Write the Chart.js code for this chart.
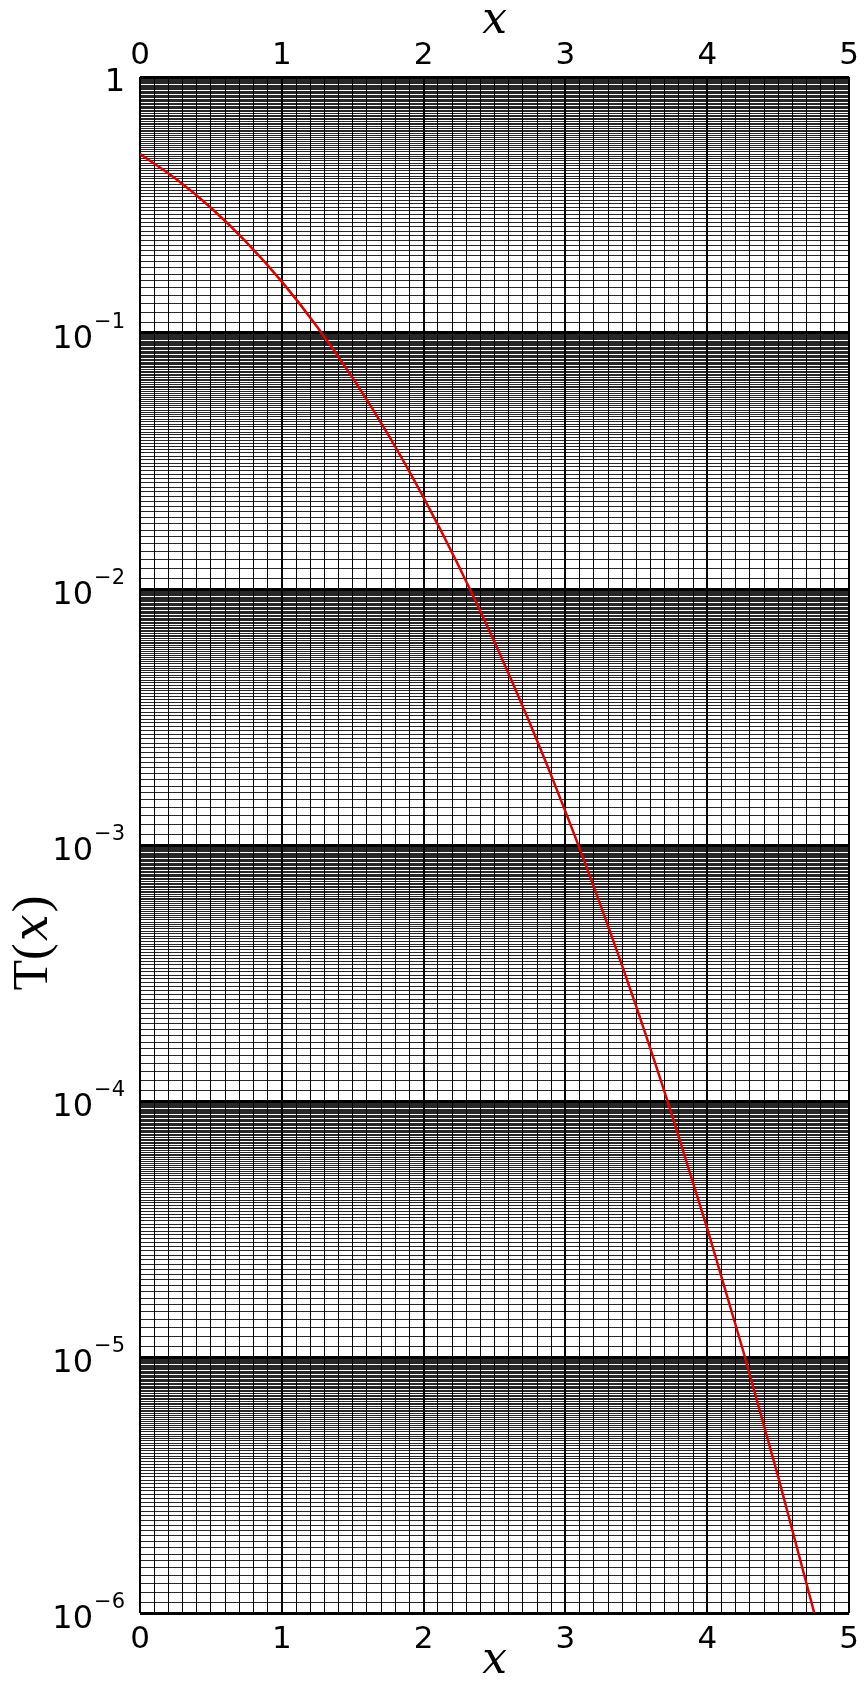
<!DOCTYPE html>
<html>
<head>
<meta charset="utf-8">
<script src="https://cdn.jsdelivr.net/npm/chart.js@4"></script>
<style>
  html, body { margin: 0; padding: 0; background: #fff; }
  canvas { display: block; }
</style>
</head>
<body>
<canvas id="chart" width="867" height="1681"></canvas>
<script>
// values
const xValues = [0, 0.25, 0.5, 0.75, 1.0, 1.25, 1.5, 1.75, 2.0, 2.25, 2.5, 2.75,
                 3.0, 3.25, 3.5, 3.75, 4.0, 4.25, 4.5, 4.75, 4.8];
const tValues = [0.5, 0.401, 0.3085, 0.2266, 0.1587, 0.1056, 0.0668, 0.0401, 0.02275,
                 0.01222, 0.00621, 0.00298, 0.00135, 5.77e-4, 2.33e-4, 8.84e-5,
                 3.17e-5, 1.07e-5, 3.40e-6, 1.02e-6, 7.9e-7];

const xTickLabels = ['0', '1', '2', '3', '4', '5'];
const yDecades = [1, 1e-1, 1e-2, 1e-3, 1e-4, 1e-5, 1e-6];
const yTickBase = ['1', '10', '10', '10', '10', '10', '10'];
const yTickSup = ['', '\u22121', '\u22122', '\u22123', '\u22124', '\u22125', '\u22126'];

const FONT = '"DejaVu Sans", sans-serif';
const SERIF = '"DejaVu Serif", "Liberation Serif", serif';

// grid ticks: every 0.1 on x, every 0.1 of the mantissa on y
function xGridTicks(scale) {
  const ticks = [];
  for (let i = 0; i <= 50; i++) ticks.push({ value: i / 10 });
  scale.ticks = ticks;
}
function yGridTicks(scale) {
  const ticks = [];
  for (let e = -6; e < 0; e++) {
    for (let i = 10; i < 100; i++) ticks.push({ value: i * Math.pow(10, e - 1) });
  }
  ticks.push({ value: 1 });
  scale.ticks = ticks;
}
function isInt(v) { return Math.abs(v - Math.round(v)) < 1e-6; }

function xLabel(v) {
  return isInt(v) ? xTickLabels[Math.round(v)] : '';
}

const labelPlugin = {
  id: 'labels',
  afterDraw(chart) {
    const ctx = chart.ctx;
    const y = chart.scales.y;
    const area = chart.chartArea;
    ctx.save();
    ctx.fillStyle = '#000';
    ctx.textBaseline = 'alphabetic';

    // y tick labels with superscripts
    const right = 125;
    yDecades.forEach((d, i) => {
      const py = y.getPixelForValue(d);
      if (!yTickSup[i]) {
        ctx.font = '32px ' + FONT;
        ctx.textAlign = 'right';
        ctx.fillText(yTickBase[i], right, py + 14);
        return;
      }
      ctx.font = '21px ' + FONT;
      const supW = ctx.measureText(yTickSup[i]).width;
      ctx.textAlign = 'left';
      ctx.fillText(yTickSup[i], right - supW, py - 5);
      ctx.font = '32px ' + FONT;
      ctx.textAlign = 'right';
      ctx.fillText(yTickBase[i], right - supW - 1, py + 15);
    });

    // axis titles
    const cx = (area.left + area.right) / 2;
    ctx.font = 'italic 44px ' + SERIF;
    ctx.textAlign = 'center';
    ctx.fillText('x', cx, 33);
    ctx.fillText('x', cx, 1673);

    ctx.translate(47, 945);
    ctx.rotate(-Math.PI / 2);
    const parts = [['T(', '50px "Liberation Serif", serif'], ['x', 'italic 48px ' + SERIF], [')', '50px "Liberation Serif", serif']];
    let total = 0;
    parts.forEach(p => { ctx.font = p[1]; total += ctx.measureText(p[0]).width; });
    let pos = -total / 2;
    ctx.textAlign = 'left';
    parts.forEach(p => {
      ctx.font = p[1];
      ctx.fillText(p[0], pos, 0);
      pos += ctx.measureText(p[0]).width + 2;
    });
    ctx.restore();
  }
};

new Chart(document.getElementById('chart').getContext('2d'), {
  type: 'line',
  data: {
    datasets: [{
      data: xValues.map((x, i) => ({ x: x, y: tValues[i] })),
      borderColor: '#dd0000',
      borderWidth: 2.5,
      pointRadius: 0,
      cubicInterpolationMode: 'monotone',
      xAxisID: 'x',
      yAxisID: 'y'
    }]
  },
  options: {
    responsive: false,
    animation: false,
    layout: { padding: { left: 0, right: 10, top: 0, bottom: 0 } },
    plugins: { legend: { display: false }, tooltip: { enabled: false } },
    scales: {
      x: {
        type: 'linear',
        position: 'bottom',
        min: 0,
        max: 5,
        afterBuildTicks: xGridTicks,
        afterFit: s => { s.height = 68; },
        border: { display: false },
        grid: {
          color: '#000',
          drawTicks: false,
          lineWidth: c => isInt(c.tick.value) ? 2 : 1
        },
        ticks: {
          autoSkip: false,
          maxRotation: 0,
          padding: 8,
          color: '#000',
          font: { family: FONT, size: 31 },
          callback: xLabel
        }
      },
      x2: {
        type: 'linear',
        position: 'top',
        min: 0,
        max: 5,
        afterBuildTicks: xGridTicks,
        afterFit: s => { s.height = 77; },
        border: { display: false },
        grid: { display: false, drawTicks: false },
        ticks: {
          autoSkip: false,
          maxRotation: 0,
          padding: 2,
          color: '#000',
          font: { family: FONT, size: 31 },
          callback: xLabel
        }
      },
      y: {
        type: 'logarithmic',
        min: 1e-6,
        max: 1,
        afterBuildTicks: yGridTicks,
        afterFit: s => { s.width = 140; },
        border: { display: false },
        grid: {
          color: '#000',
          drawTicks: false,
          lineWidth: c => {
            const v = c.tick.value;
            const e = Math.floor(Math.log10(v) + 1e-9);
            const m = v / Math.pow(10, e);
            return Math.abs(m - 1) < 1e-6 ? 3 : 0.85;
          }
        },
        ticks: { display: false, callback: () => '' }
      }
    }
  },
  plugins: [labelPlugin]
});
</script>
</body>
</html>
